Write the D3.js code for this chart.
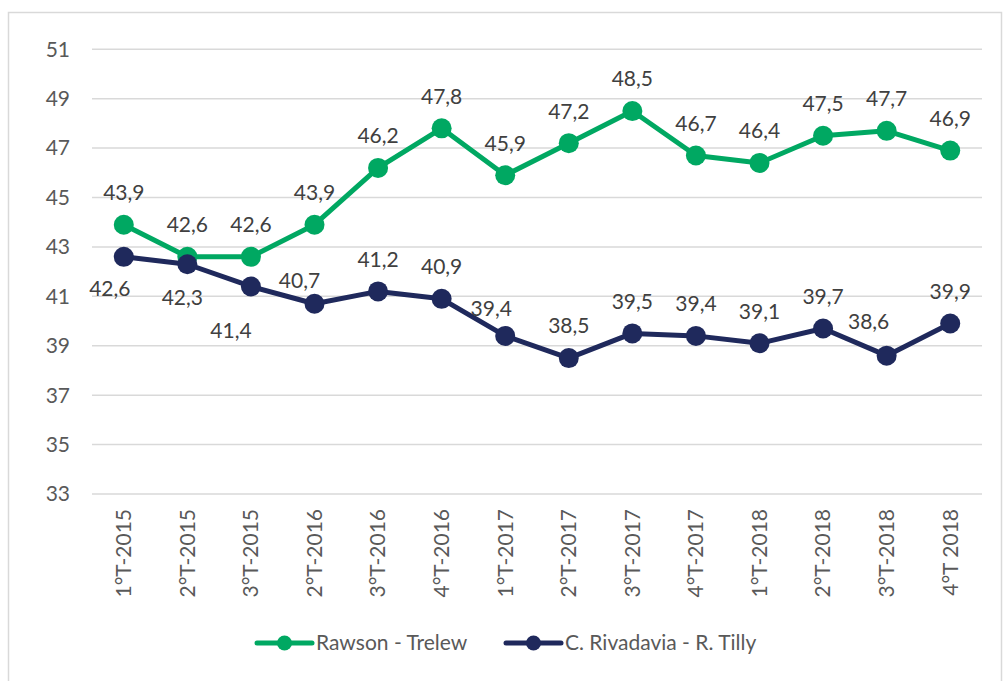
<!DOCTYPE html>
<html>
  <head>
    <meta charset="utf-8">
    <script src="https://d3js.org/d3.v7.min.js"></script>
    <style>
      body, html {
        margin: 0;
        background: #fff;
        font-family: 'Lato', 'Open Sans', sans-serif;
      }
      text {
        fill: #595959;
        font-size: 21px;
      }
      text.value {
        fill: #404040;
      }
      .grid line {
        stroke: #d9d9d9;
        stroke-width: 1.5px;
      }
    </style>
  </head>
  <body>
    <div id="chart"></div>
    <script>
      var categories = ["1°T-2015", "2°T-2015", "3°T-2015", "2°T-2016", "3°T-2016", "4°T-2016",
        "1°T-2017", "2°T-2017", "3°T-2017", "4°T-2017", "1°T-2018", "2°T-2018", "3°T-2018", "4°T 2018"];
      var rawsonTrelew = [43.9, 42.6, 42.6, 43.9, 46.2, 47.8, 45.9, 47.2, 48.5, 46.7, 46.4, 47.5, 47.7, 46.9];
      var rivadaviaTilly = [42.6, 42.3, 41.4, 40.7, 41.2, 40.9, 39.4, 38.5, 39.5, 39.4, 39.1, 39.7, 38.6, 39.9];
      var yTicks = [33, 35, 37, 39, 41, 43, 45, 47, 49, 51];
      var seriesNames = ["Rawson - Trelew", "C. Rivadavia - R. Tilly"];
      var seriesColors = ["#00a862", "#1f295c"];

      var width = 1003, height = 681;
      var fmt = d => d3.format(".1f")(d).replace(".", ",");

      var svg = d3.select("#chart")
        .append("svg")
        .attr("width", width)
        .attr("height", height);

      // chart border
      svg.append("rect")
        .attr("x", 8.5)
        .attr("y", 12.5)
        .attr("width", 993)
        .attr("height", 690)
        .attr("fill", "none")
        .attr("stroke", "#d9d9d9")
        .attr("stroke-width", 1.5);

      var x = d3.scaleBand().domain(categories).range([92, 982]);
      var y = d3.scaleLinear().domain([33, 51]).range([494, 49.3]);
      var cx = d => x(d) + x.bandwidth() / 2;

      svg.append("g").attr("class", "grid")
        .selectAll("line")
        .data(yTicks)
        .enter()
        .append("line")
          .attr("x1", 92)
          .attr("x2", 982)
          .attr("y1", d => y(d))
          .attr("y2", d => y(d));

      svg.append("g")
        .selectAll("text")
        .data(yTicks)
        .enter()
        .append("text")
          .attr("x", 70)
          .attr("y", d => y(d))
          .attr("dy", "0.35em")
          .attr("text-anchor", "end")
          .text(d => d);

      svg.append("g")
        .selectAll("text")
        .data(categories)
        .enter()
        .append("text")
          .attr("transform", d => "translate(" + cx(d) + ",509) rotate(-90)")
          .attr("dy", "0.35em")
          .attr("text-anchor", "end")
          .text(d => d);

      var line = d3.line()
        .x((d, i) => cx(categories[i]))
        .y(d => y(d));

      // label nudges for the lower series (to keep labels off the lines)
      var lowerNudge = [[-14, 32], [-5, 33], [-20, 44], [-15, -23], [0, -32], [0, -32],
        [-14, -27], [0, -32], [0, -32], [0, -32], [0, -32], [0, -32], [-18, -34], [0, -32]];

      [rawsonTrelew, rivadaviaTilly].forEach((values, s) => {
        var g = svg.append("g");
        g.append("path")
          .datum(values)
          .attr("d", line)
          .attr("fill", "none")
          .attr("stroke", seriesColors[s])
          .attr("stroke-width", 5)
          .attr("stroke-linejoin", "round");
        g.selectAll("circle")
          .data(values)
          .enter()
          .append("circle")
            .attr("cx", (d, i) => cx(categories[i]))
            .attr("cy", d => y(d))
            .attr("r", 10)
            .attr("fill", seriesColors[s]);
      });

      svg.append("g")
        .selectAll("text")
        .data(rawsonTrelew)
        .enter()
        .append("text")
          .attr("class", "value")
          .attr("x", (d, i) => cx(categories[i]))
          .attr("y", d => y(d) - 32)
          .attr("dy", "0.35em")
          .attr("text-anchor", "middle")
          .text(fmt);

      svg.append("g")
        .selectAll("text")
        .data(rivadaviaTilly)
        .enter()
        .append("text")
          .attr("class", "value")
          .attr("x", (d, i) => cx(categories[i]) + lowerNudge[i][0])
          .attr("y", (d, i) => y(d) + lowerNudge[i][1])
          .attr("dy", "0.35em")
          .attr("text-anchor", "middle")
          .text(fmt);

      // legend
      var legendX = [257, 506];
      var legend = svg.append("g")
        .selectAll("g")
        .data(seriesNames)
        .enter()
        .append("g")
          .attr("transform", (d, i) => "translate(" + legendX[i] + ",643)");
      legend.append("line")
        .attr("x1", 0).attr("x2", 55)
        .attr("stroke", (d, i) => seriesColors[i])
        .attr("stroke-width", 5)
        .attr("stroke-linecap", "round");
      legend.append("circle")
        .attr("cx", 27.5)
        .attr("r", 7.5)
        .attr("fill", (d, i) => seriesColors[i]);
      legend.append("text")
        .attr("x", 59)
        .attr("dy", "0.35em")
        .text(d => d);
    </script>
  </body>
</html>
